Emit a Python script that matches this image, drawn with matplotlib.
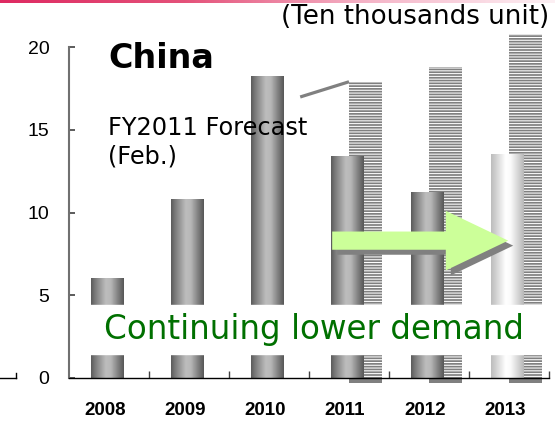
import matplotlib
matplotlib.use('Agg')
import matplotlib.pyplot as plt
import matplotlib.patheffects as pe
from matplotlib.patches import FancyArrow
from matplotlib.lines import Line2D
from matplotlib.colors import LinearSegmentedColormap
import numpy as np

# data (ten thousand units)
years = ['2008', '2009', '2010', '2011', '2012', '2013']
actual = [6.0, 10.8, 18.2, 13.4, 11.2, 13.5]
forecast_years = ['2011', '2012', '2013']
forecast = [17.9, 18.8, 20.8]   # FY2011 forecast (Feb.)
yticks = [0, 5, 10, 15, 20]
arrow_level = 8.3

plt.rcParams['hatch.color'] = 'white'
plt.rcParams['hatch.linewidth'] = 0.75

fig = plt.figure(figsize=(5.55, 4.22), dpi=100)
ax = fig.add_axes([69/555, 44/422, 480/555, 331/422])
x = np.arange(len(years))
ax.set_xlim(-0.5, 5.5)
ax.set_ylim(0, 20)

# striped forecast bars behind the actual ones
fx = [years.index(y) for y in forecast_years]
ax.bar(fx, forecast, width=0.41, align='edge', color='#808080', edgecolor='white',
       linewidth=0, hatch='------', zorder=1, clip_on=False)
ax.bar(fx, [0.3] * len(fx), bottom=-0.3, width=0.41, align='edge', color='#808080',
       linewidth=0, zorder=1, clip_on=False)

# cylinder-like gradient for the actual bars
t = np.linspace(0, 1, 80)
dark = np.interp(t, [0, 0.12, 0.45, 0.6, 0.85, 1], [0.36, 0.48, 0.74, 0.72, 0.48, 0.34])
light = np.interp(t, [0, 0.15, 0.45, 0.6, 0.85, 1], [0.74, 0.82, 1.0, 0.98, 0.82, 0.72])
for i, v in enumerate(actual):
    prof = light if years[i] == '2013' else dark
    ax.imshow(prof[np.newaxis, :], cmap='gray', vmin=0, vmax=1, aspect='auto',
              interpolation='bilinear', extent=[i - 0.225, i + 0.185, 0, v], zorder=2)
ax.set_xlim(-0.5, 5.5)
ax.set_ylim(0, 20)

# white band behind the caption
ax.axhspan(1.45, 4.4, xmin=0.004, xmax=1, color='white', zorder=3)
ax.text(-0.06, 2.95, 'Continuing lower demand', color='#007000', fontsize=23.5,
        va='center', ha='left', zorder=4)

# green arrow 2011 -> 2013
arr = FancyArrow(x[3] - 0.21, arrow_level, x[5] - 0.01 - (x[3] - 0.21), 0,
                 width=1.1, head_width=3.6, head_length=0.78, length_includes_head=True,
                 facecolor='#ccff99', edgecolor='none', zorder=5)
arr.set_path_effects([pe.SimplePatchShadow(offset=(3.6, -3.6), shadow_rgbFace='#808080', alpha=1.0),
                      pe.Normal()])
ax.add_patch(arr)

# titles / annotations
ax.text(-0.01, 19.3, 'China', fontsize=24, fontweight='bold', va='center', ha='left', zorder=4)
ax.text(-0.01, 15.1, 'FY2011 Forecast', fontsize=17.3, va='center', ha='left', zorder=4)
ax.text(-0.01, 13.4, '(Feb.)', fontsize=17.3, va='center', ha='left', zorder=4)
ax.plot([2.39, fx[0]], [16.98, forecast[0]], color='#808080', lw=2.3, zorder=4,
        solid_capstyle='butt')

fig.text(549/555, 1 - 17/422, '(Ten thousands unit)', fontsize=18.8, ha='right', va='center')

# axes styling
for s in ['top', 'right']:
    ax.spines[s].set_visible(False)
ax.spines['left'].set_color('#707070')
ax.spines['left'].set_linewidth(1.5)
ax.spines['left'].set_zorder(6)
ax.spines['bottom'].set_color('black')
ax.spines['bottom'].set_linewidth(1.0)
ax.spines['bottom'].set_zorder(6)
ax.set_yticks(yticks)
ax.set_yticklabels([str(v) for v in yticks], fontfamily='Liberation Sans', fontsize=14)
ax.tick_params(axis='y', direction='in', length=4, width=1.2, color='#404040', pad=14)
ax.set_xticks(x - 0.05)
ax.set_xticklabels(years, fontfamily='Liberation Sans', fontsize=13.5, fontweight='bold')
ax.tick_params(axis='x', which='major', length=0, pad=17)
ax.set_xticks(np.arange(0.5, 6, 1), minor=True)
ax.tick_params(axis='x', which='minor', direction='in', length=5, width=1, color='#404040')

# red gradient line across the top
top = fig.add_axes([0, 1 - 3/422, 1, 3/422])
cm = LinearSegmentedColormap.from_list('bar', ['#de2a62', '#e4527a', '#f5b5c8', '#fdf0f4'])
top.imshow(np.linspace(0, 1, 200)[np.newaxis, :], cmap=cm, aspect='auto')
top.axis('off')

# piece of the neighbouring chart at the left edge
fig.add_artist(Line2D([0, 16/555], [44/422, 44/422], color='black', lw=1))
fig.add_artist(Line2D([16/555, 16/555], [44/422, 49/422], color='black', lw=1))

fig.savefig('out.png', dpi=100)
